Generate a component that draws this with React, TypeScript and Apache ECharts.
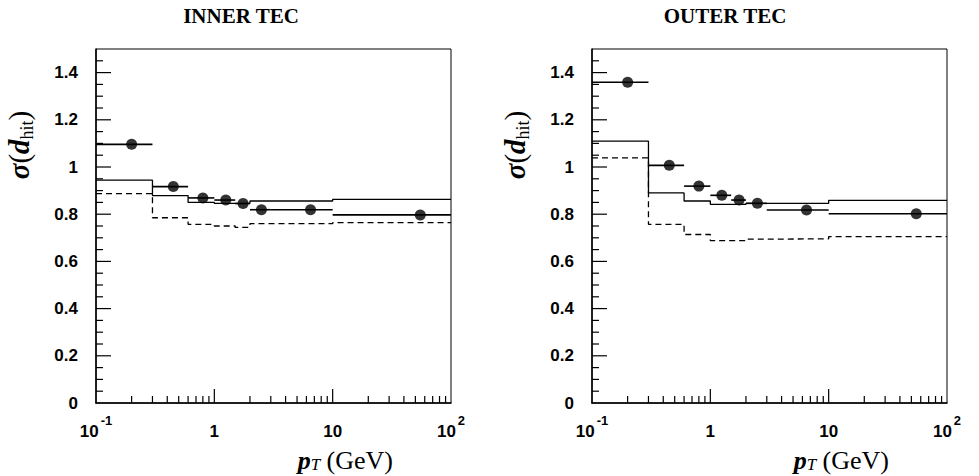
import React, { useEffect, useRef } from 'react';
import * as echarts from 'echarts';

// ---- data ----
const PANEL_TITLES = ['INNER TEC', 'OUTER TEC'];
const BIN_LO = [0.1, 0.3, 0.6, 1.0, 1.5, 2.0, 3.0, 10];
const BIN_HI = [0.3, 0.6, 1.0, 1.5, 2.0, 3.0, 10, 100];
const PT_CENTER = [0.2, 0.45, 0.8, 1.25, 1.75, 2.5, 6.5, 55];

const INNER_DATA = [1.096, 0.917, 0.869, 0.86, 0.845, 0.819, 0.819, 0.797];
const INNER_SOLID = [0.944, 0.879, 0.85, 0.846, 0.846, 0.856, 0.856, 0.863];
const INNER_DASHED = [0.887, 0.785, 0.757, 0.75, 0.744, 0.76, 0.76, 0.764];

const OUTER_DATA = [1.359, 1.007, 0.919, 0.88, 0.86, 0.846, 0.818, 0.802];
const OUTER_SOLID = [1.11, 0.89, 0.856, 0.842, 0.842, 0.846, 0.846, 0.859];
const OUTER_DASHED = [1.039, 0.757, 0.714, 0.688, 0.688, 0.694, 0.696, 0.705];

const X_MAJOR = [1, 10];
const X_MINOR = [0.2, 0.3, 0.4, 0.5, 0.6, 0.7, 0.8, 0.9, 2, 3, 4, 5, 6, 7, 8, 9, 20, 30, 40, 50, 60, 70, 80, 90];
const Y_MAJOR = [0.2, 0.4, 0.6, 0.8, 1.0, 1.2, 1.4];
const Y_MINOR = [0.05, 0.1, 0.15, 0.25, 0.3, 0.35, 0.45, 0.5, 0.55, 0.65, 0.7, 0.75, 0.85, 0.9, 0.95, 1.05, 1.1, 1.15, 1.25, 1.3, 1.35, 1.45];

const X_LABELS: Record<string, string> = {
  '-1': '{b|10}{s|-1}',
  '0': '{c|1}',
  '1': '{c|10}',
  '2': '{b|10}{s|2}',
};

const GRIDS = [
  { left: 96, top: 49, width: 355, height: 354 },
  { left: 592, top: 49, width: 355, height: 354 },
];
const TITLE_CENTERS = [236, 720];
const Y_TITLE_X = [20, 516];
const X_TITLE_RIGHT = [393, 889];

const SANS = 'Liberation Sans';
const SERIF = 'Liberation Serif';

function stepData(vals: number[]) {
  const d = BIN_LO.map((x, i) => [x, vals[i]]);
  d.push([BIN_HI[BIN_HI.length - 1], vals[vals.length - 1]]);
  return d;
}

function tickData() {
  const d: number[][] = [];
  X_MAJOR.forEach((v) => d.push([v, 0, 0, 14]));
  X_MINOR.forEach((v) => d.push([v, 0, 0, 7]));
  Y_MAJOR.forEach((v) => d.push([0.1, v, 1, 15]));
  Y_MINOR.forEach((v) => d.push([0.1, v, 1, 7]));
  return d;
}

export default function App() {
  const ref = useRef<HTMLDivElement>(null);
  useEffect(() => {
    if (!ref.current) return;
    const chart = echarts.init(ref.current, undefined, { renderer: 'svg' });

    const xAxis = GRIDS.map((_, i) => ({
      type: 'log',
      gridIndex: i,
      logBase: 10,
      min: 0.1,
      max: 100,
      axisLine: { show: true, lineStyle: { color: '#000', width: 1.5 } },
      axisTick: { show: false },
      splitLine: { show: false },
      axisLabel: {
        margin: 11,
        color: '#000',
        formatter: (v: number) => X_LABELS[String(Math.round(Math.log10(v)))] || '',
        rich: {
          b: { fontFamily: SANS, fontWeight: 'bold', fontSize: 17, lineHeight: 17, verticalAlign: 'bottom', color: '#000' },
          s: { fontFamily: SANS, fontWeight: 'bold', fontSize: 13, lineHeight: 26, verticalAlign: 'top', padding: [0, 0, 0, 2], color: '#000' },
          c: { fontFamily: SANS, fontWeight: 'bold', fontSize: 17, lineHeight: 26, verticalAlign: 'bottom', color: '#000' },
        },
      },
    }));

    const yAxis = GRIDS.map((_, i) => ({
      type: 'value',
      gridIndex: i,
      min: 0,
      max: 1.5,
      interval: 0.2,
      axisLine: { show: true, lineStyle: { color: '#000', width: 1.5 } },
      axisTick: { show: false },
      splitLine: { show: false },
      axisLabel: {
        margin: 18,
        color: '#000',
        fontFamily: SANS,
        fontWeight: 'bold',
        fontSize: 17,
        formatter: (v: number) => (v > 1.45 ? '' : v === 0 ? '0' : String(Math.round(v * 10) / 10)),
      },
    }));

    const series: any[] = [];
    const panels = [
      { data: INNER_DATA, solid: INNER_SOLID, dashed: INNER_DASHED },
      { data: OUTER_DATA, solid: OUTER_SOLID, dashed: OUTER_DASHED },
    ];
    panels.forEach((p, i) => {
      series.push({
        type: 'custom',
        name: 'ticks' + i,
        xAxisIndex: i,
        yAxisIndex: i,
        silent: true,
        data: tickData(),
        encode: { x: 0, y: 1 },
        renderItem: (params: any, api: any) => {
          const pt = api.coord([api.value(0), api.value(1)]);
          const dir = api.value(2);
          const len = api.value(3);
          const q = dir === 0 ? [pt[0], pt[1] - len] : [pt[0] + len, pt[1]];
          return {
            type: 'line',
            shape: { x1: pt[0], y1: pt[1], x2: q[0], y2: q[1] },
            style: { stroke: '#000', lineWidth: 1.2 },
          };
        },
      });
      series.push({
        type: 'line',
        name: 'solid' + i,
        xAxisIndex: i,
        yAxisIndex: i,
        step: 'end',
        symbol: 'none',
        silent: true,
        data: stepData(p.solid),
        lineStyle: { color: '#000', width: 1.3 },
      });
      series.push({
        type: 'line',
        name: 'dashed' + i,
        xAxisIndex: i,
        yAxisIndex: i,
        step: 'end',
        symbol: 'none',
        silent: true,
        data: stepData(p.dashed),
        lineStyle: { color: '#000', width: 1.3, type: [6, 4] },
      });
      series.push({
        type: 'custom',
        name: 'errors' + i,
        xAxisIndex: i,
        yAxisIndex: i,
        silent: true,
        data: PT_CENTER.map((c, k) => [c, p.data[k], BIN_LO[k], BIN_HI[k]]),
        encode: { x: 0, y: 1 },
        renderItem: (params: any, api: any) => {
          const a = api.coord([api.value(2), api.value(1)]);
          const b = api.coord([api.value(3), api.value(1)]);
          return {
            type: 'line',
            shape: { x1: a[0], y1: a[1], x2: b[0], y2: b[1] },
            style: { stroke: '#000', lineWidth: 1.6 },
          };
        },
      });
      series.push({
        type: 'scatter',
        name: 'data' + i,
        xAxisIndex: i,
        yAxisIndex: i,
        symbol: 'circle',
        symbolSize: 11,
        silent: true,
        itemStyle: { color: '#000' },
        data: PT_CENTER.map((c, k) => [c, p.data[k]]),
        z: 5,
      });
    });

    const yTitle = (x: number) => ({
      type: 'text',
      x,
      y: 145,
      rotation: Math.PI / 2,
      style: {
        text: '{m|σ}{r|(}{m|d}{s|hit}{r|)}',
        align: 'center',
        verticalAlign: 'middle',
        fill: '#000',
        rich: {
          m: { fontFamily: SERIF, fontStyle: 'italic', fontWeight: 'bold', fontSize: 29, lineHeight: 32, verticalAlign: 'top', fill: '#000' },
          r: { fontFamily: SERIF, fontSize: 29, lineHeight: 32, verticalAlign: 'top', fill: '#000' },
          s: { fontFamily: SERIF, fontSize: 18, lineHeight: 18, verticalAlign: 'bottom', fill: '#000' },
        },
      },
    });
    const xTitle = (x: number) => ({
      type: 'text',
      x,
      y: 460,
      style: {
        text: '{m|p}{s|T}{r| (GeV)}',
        align: 'right',
        verticalAlign: 'middle',
        fill: '#000',
        rich: {
          m: { fontFamily: SERIF, fontStyle: 'italic', fontWeight: 'bold', fontSize: 26, lineHeight: 26, verticalAlign: 'top', fill: '#000' },
          r: { fontFamily: SERIF, fontSize: 26, lineHeight: 26, verticalAlign: 'top', fill: '#000' },
          s: { fontFamily: SERIF, fontStyle: 'italic', fontSize: 17, lineHeight: 15, verticalAlign: 'bottom', fill: '#000' },
        },
      },
    });

    chart.setOption({
      animation: false,
      backgroundColor: '#fff',
      title: PANEL_TITLES.map((t, i) => ({
        text: t,
        left: TITLE_CENTERS[i],
        top: 0,
        textAlign: 'center',
        textStyle: { fontFamily: SERIF, fontWeight: 'bold', fontSize: 21, color: '#000' },
      })),
      grid: GRIDS.map((g) => ({ ...g, show: true, borderColor: '#000', borderWidth: 1, backgroundColor: 'transparent' })),
      xAxis,
      yAxis,
      series,
      graphic: [
        yTitle(Y_TITLE_X[0]),
        yTitle(Y_TITLE_X[1]),
        xTitle(X_TITLE_RIGHT[0]),
        xTitle(X_TITLE_RIGHT[1]),
      ],
    } as any);

    return () => chart.dispose();
  }, []);

  return <div ref={ref} style={{ position: 'fixed', left: 0, top: 0, width: 979, height: 476, background: '#fff' }} />;
}
